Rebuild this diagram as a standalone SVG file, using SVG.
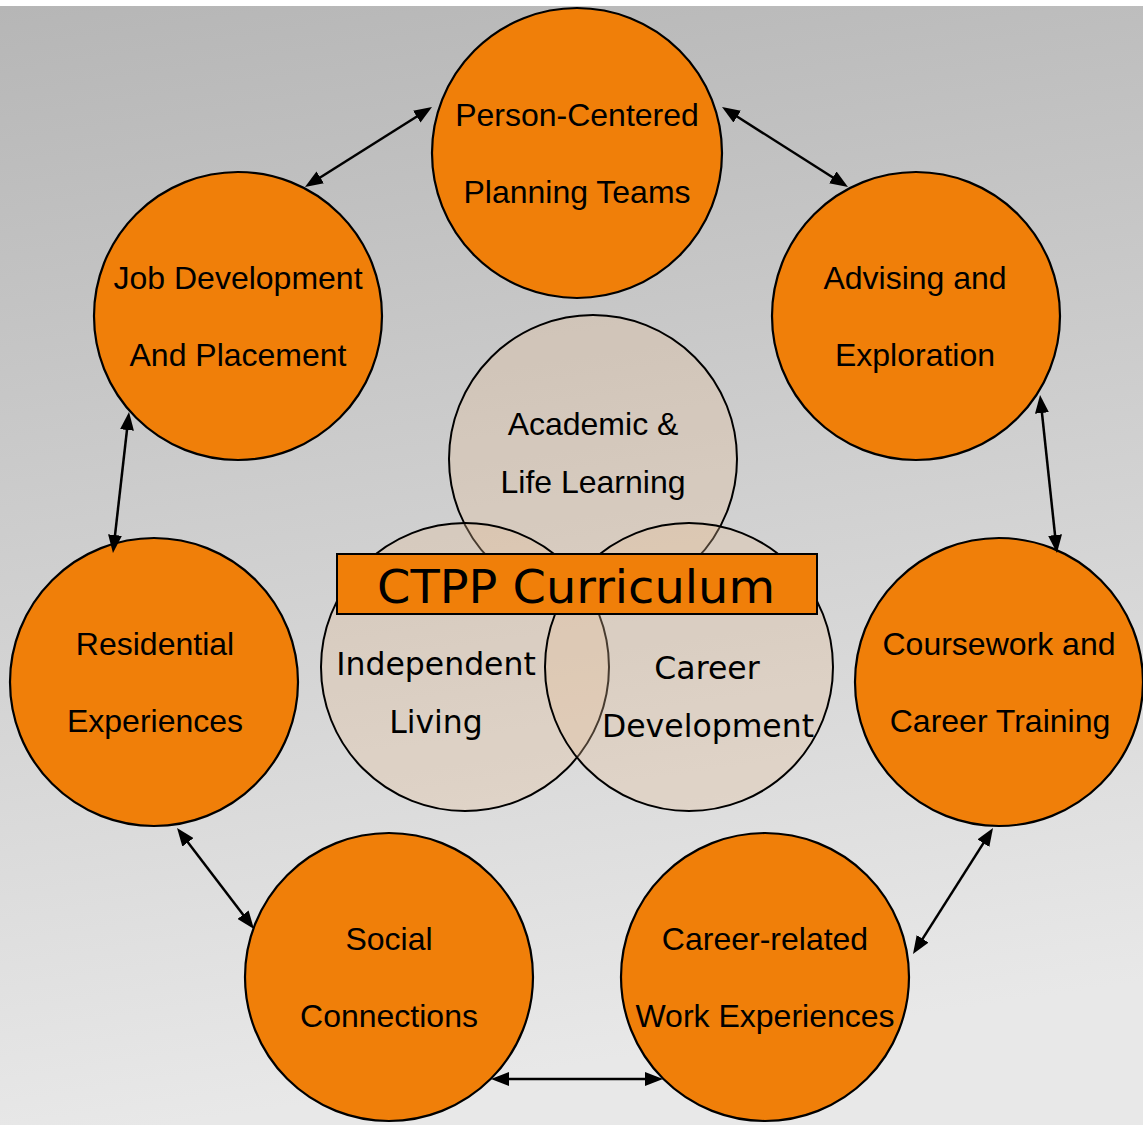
<svg xmlns="http://www.w3.org/2000/svg" width="1143" height="1125" viewBox="0 0 1143 1125">
<defs>
<linearGradient id="bg" x1="0" y1="0" x2="0.15" y2="1">
<stop offset="0" stop-color="#b6b6b6"/>
<stop offset="1" stop-color="#e8e8e8"/>
</linearGradient>
<marker id="ah" markerUnits="userSpaceOnUse" markerWidth="18" markerHeight="14" refX="9" refY="7" orient="auto-start-reverse">
<path d="M0,0 L18,7 L0,14 z" fill="#000"/>
</marker>
<style>
.outer{fill:#f07f09;stroke:#000;stroke-width:2.2}
.inner{fill:rgb(230,191,152);fill-opacity:0.31;stroke:#000;stroke-width:2}
.lbl{font-family:"Liberation Sans",Arial,sans-serif;font-size:32px;fill:#000;text-anchor:middle}
.vl{font-family:"DejaVu Sans",Verdana,sans-serif;font-size:31.5px;fill:#000;text-anchor:middle}
.conn line{stroke:#000;stroke-width:2.5;marker-start:url(#ah);marker-end:url(#ah)}
</style>
</defs>
<rect x="0" y="0" width="1143" height="1125" fill="#fff"/>
<rect x="0" y="6" width="1143" height="1119" fill="url(#bg)"/>

<g id="inner-circles">
<g id="academic">
<circle class="inner" cx="593" cy="459" r="144"/>
</g>
<g id="independent">
<circle class="inner" cx="465" cy="667" r="144"/>
</g>
<g id="career-dev">
<circle class="inner" cx="689" cy="667" r="144"/>
</g>
</g>
<g id="inner-labels">
<text class="lbl" x="593" y="435">Academic &amp;</text>
<text class="lbl" x="593" y="493">Life Learning</text>
<text class="vl" x="436" y="675">Independent</text>
<text class="vl" x="436" y="733">Living</text>
<text class="vl" x="707" y="679">Career</text>
<text class="vl" x="708" y="737">Development</text>
</g>

<g id="ctpp">
<rect x="337" y="554" width="480" height="60" fill="#f07f09" stroke="#000" stroke-width="2"/>
<text x="576" y="603" font-family="DejaVu Sans,Verdana,sans-serif" font-size="46" text-anchor="middle" fill="#000" textLength="398" lengthAdjust="spacingAndGlyphs">CTPP Curriculum</text>
</g>

<g id="person">
<circle class="outer" cx="577" cy="153" r="145"/>
<text class="lbl" x="577" y="126">Person-Centered</text>
<text class="lbl" x="577" y="203">Planning Teams</text>
</g>
<g id="job">
<circle class="outer" cx="238" cy="316" r="144"/>
<text class="lbl" x="238" y="289">Job Development</text>
<text class="lbl" x="238" y="366">And Placement</text>
</g>
<g id="advising">
<circle class="outer" cx="916" cy="316" r="144"/>
<text class="lbl" x="915" y="289">Advising and</text>
<text class="lbl" x="915" y="366">Exploration</text>
</g>
<g id="residential">
<circle class="outer" cx="154" cy="682" r="144"/>
<text class="lbl" x="155" y="655">Residential</text>
<text class="lbl" x="155" y="732">Experiences</text>
</g>
<g id="coursework">
<circle class="outer" cx="999" cy="682" r="144"/>
<text class="lbl" x="999" y="655">Coursework and</text>
<text class="lbl" x="1000" y="732">Career Training</text>
</g>
<g id="social">
<circle class="outer" cx="389" cy="977" r="144"/>
<text class="lbl" x="389" y="950">Social</text>
<text class="lbl" x="389" y="1027">Connections</text>
</g>
<g id="career-related">
<circle class="outer" cx="765" cy="977" r="144"/>
<text class="lbl" x="765" y="950">Career-related</text>
<text class="lbl" x="765" y="1027">Work Experiences</text>
</g>

<g id="connectors" class="conn">
<line x1="424.4" y1="111.8" x2="312.6" y2="182.2"/>
<line x1="729.6" y1="111.8" x2="840.4" y2="182.2"/>
<line x1="1041" y1="404" x2="1056" y2="544"/>
<line x1="988.2" y1="835.6" x2="917.8" y2="946.4"/>
<line x1="500" y1="1079" x2="654" y2="1079"/>
<line x1="182.5" y1="835.2" x2="248.5" y2="921.8"/>
<line x1="128" y1="421" x2="114" y2="544"/>
</g>
</svg>
